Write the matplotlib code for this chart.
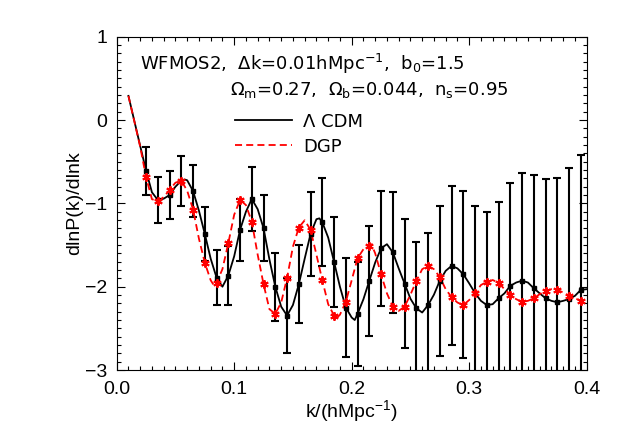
import numpy as np
import matplotlib
matplotlib.use("Agg")
import matplotlib.pyplot as plt

plt.rcParams['font.family'] = ['Liberation Sans', 'DejaVu Sans']
plt.rcParams['mathtext.fontset'] = 'custom'
plt.rcParams['mathtext.rm'] = 'Liberation Sans'

# --- binned points (k centres of the 0.01 bins) ---
k_bins = [0.025, 0.035, 0.045, 0.055, 0.065, 0.075, 0.085, 0.095, 0.105, 0.115,
          0.125, 0.135, 0.145, 0.155, 0.165, 0.175, 0.185, 0.195, 0.205, 0.215,
          0.225, 0.235, 0.245, 0.255, 0.265, 0.275, 0.285, 0.295, 0.305, 0.315,
          0.325, 0.335, 0.345, 0.355, 0.365, 0.375, 0.385, 0.395]

lcdm_pts = [-0.608, -0.959, -0.900, -0.728, -0.852, -1.367, -1.891, -1.866, -1.318, -0.948,
            -1.299, -2.000, -2.346, -1.971, -1.366, -1.227, -1.702, -2.250, -2.326, -1.928,
            -1.539, -1.587, -1.962, -2.259, -2.221, -1.928, -1.750, -1.851, -2.077, -2.221,
            -2.139, -1.990, -1.928, -2.019, -2.139, -2.187, -2.148, -2.038]

lcdm_err = [0.29, 0.28, 0.29, 0.30, 0.31, 0.32, 0.33, 0.355, 0.37, 0.385,
            0.395, 0.41, 0.45, 0.47, 0.50, 0.53, 0.54, 0.59, 0.62, 0.66,
            0.69, 0.725, 0.77, 0.80, 0.86, 0.90, 0.955, 1.00, 1.04, 1.12,
            1.16, 1.24, 1.29, 1.36, 1.43, 1.49, 1.57, 1.62]

dgp_pts = [-0.685, -0.973, -0.838, -0.728, -1.074, -1.712, -1.952, -1.477, -0.959, -1.222,
           -1.971, -2.326, -1.894, -1.290, -1.318, -1.923, -2.346, -2.182, -1.659, -1.510,
           -1.851, -2.240, -2.240, -1.933, -1.750, -1.885, -2.125, -2.221, -2.077, -1.942,
           -1.952, -2.096, -2.182, -2.139, -2.048, -2.038, -2.106, -2.168]

# --- extra read-offs of the continuous model curves between the bins ---
lcdm_line_k = [0.010, 0.020, 0.030, 0.040, 0.050, 0.058, 0.060, 0.070, 0.080, 0.090,
               0.100, 0.110, 0.120, 0.130, 0.140, 0.150, 0.160, 0.170, 0.1725, 0.180,
               0.190, 0.200, 0.2026, 0.210, 0.220, 0.230, 0.240, 0.250, 0.260, 0.270,
               0.280, 0.290, 0.300, 0.310, 0.320, 0.330, 0.340, 0.350, 0.360, 0.370,
               0.380, 0.390, 0.400]
lcdm_line_y = [0.29, -0.31, -0.867, -0.944, -0.80, -0.714, -0.723, -1.088, -1.664, -2.00,
               -1.635, -1.10, -1.07, -1.674, -2.24, -2.22, -1.664, -1.19, -1.18, -1.41,
               -2.00, -2.37, -2.40, -2.15, -1.71, -1.49, -1.78, -2.144, -2.31, -2.096,
               -1.81, -1.78, -1.96, -2.17, -2.21, -2.08, -1.95, -1.95, -2.08, -2.17,
               -2.17, -2.11, -2.03]

dgp_line_k = [0.010, 0.020, 0.030, 0.040, 0.050, 0.060, 0.070, 0.080, 0.083, 0.090,
              0.100, 0.110, 0.120, 0.130, 0.140, 0.150, 0.160, 0.170, 0.180, 0.187,
              0.190, 0.200, 0.210, 0.2168, 0.220, 0.230, 0.240, 0.250, 0.260, 0.270,
              0.280, 0.290, 0.300, 0.310, 0.320, 0.330, 0.340, 0.350, 0.360, 0.370,
              0.380, 0.390, 0.400]
dgp_line_y = [0.29, -0.32, -0.95, -0.925, -0.752, -0.848, -1.424, -1.923, -1.99, -1.789,
              -1.136, -1.02, -1.616, -2.27, -2.19, -1.52, -1.203, -1.616, -2.21, -2.38,
              -2.336, -1.923, -1.55, -1.49, -1.60, -2.08, -2.29, -2.096, -1.79, -1.79,
              -2.03, -2.19, -2.16, -1.98, -1.92, -2.03, -2.15, -2.17, -2.09, -2.03,
              -2.07, -2.14, -2.17]


def merged(k_a, y_a, k_b, y_b):
    k = np.concatenate([k_a, k_b])
    y = np.concatenate([y_a, y_b])
    order = np.argsort(k)
    return k[order], y[order]


fig = plt.figure(figsize=(6.23, 4.45), dpi=100)
ax = fig.add_axes([0.1873, 0.1685, 0.7544, 0.749])

# model curves
kl, yl = merged(k_bins, lcdm_pts, lcdm_line_k, lcdm_line_y)
kd, yd = merged(k_bins, dgp_pts, dgp_line_k, dgp_line_y)
ax.plot(kl, yl, color='black', lw=1.3, zorder=3)
ax.plot(kd, yd, color='red', lw=1.3, dashes=(3.9, 2.3), zorder=4)

# LCDM points with errors
ax.errorbar(k_bins, lcdm_pts, yerr=lcdm_err, fmt='none', ecolor='black',
            elinewidth=1.5, capsize=2.6, capthick=1.5, zorder=2)
ax.plot(k_bins, lcdm_pts, 's', color='black', ms=3.2, zorder=5)
# DGP points
ax.plot(k_bins, dgp_pts, linestyle='none', marker=(6, 2, 0), color='red',
        ms=6, mew=1.4, zorder=6)

ax.set_xlim(0.0, 0.4)
ax.set_ylim(-3.0, 1.0)
ax.set_xticks([0.0, 0.1, 0.2, 0.3, 0.4])
ax.set_xticklabels(['0.0', '0.1', '0.2', '0.3', '0.4'])
ax.set_yticks([-3, -2, -1, 0, 1])
ax.set_xticks(np.arange(0, 0.4001, 0.01), minor=True)
ax.set_yticks(np.arange(-3, 1.001, 0.1), minor=True)
ax.tick_params(which='both', direction='in', top=True, right=True, labelsize=14)
ax.tick_params(which='major', length=5.5, width=0.8)
ax.tick_params(which='minor', length=2.8, width=0.8)
ax.tick_params(axis='x', pad=8)
ax.tick_params(axis='y', pad=7)
for s in ax.spines.values():
    s.set_linewidth(0.8)

ax.set_xlabel(r'k/(hMpc$\mathregular{^{-1}}$)', fontsize=14)
ax.set_ylabel('dlnP(k)/dlnk', fontsize=14)
ax.xaxis.set_label_coords(0.5, -0.085)
ax.yaxis.set_label_coords(-0.072, 0.5)

# annotation block (wider face, like the original vector font)
ann = dict(transform=ax.transAxes, fontsize=13, va='baseline', family='DejaVu Sans')
ax.text(0.0496, 0.90,
        r'WFMOS2,  $\mathregular{\Delta}$k=0.01hMpc$\mathregular{^{-1}}$,  b$\mathregular{_0}$=1.5',
        **ann)
ax.text(0.241, 0.824,
        r'$\mathregular{\Omega_m}$=0.27,  $\mathregular{\Omega_b}$=0.044,  n$\mathregular{_s}$=0.95',
        **ann)
ax.plot([0.252, 0.374], [0.750, 0.750], color='black', lw=1.3, transform=ax.transAxes)
ax.plot([0.252, 0.374], [0.675, 0.675], color='red', lw=1.3, dashes=(3.9, 2.3),
        transform=ax.transAxes)
ax.text(0.397, 0.7305, 'Λ CDM', **ann)
ax.text(0.397, 0.6555, 'DGP', **ann)

fig.savefig('out.png', dpi=100)
